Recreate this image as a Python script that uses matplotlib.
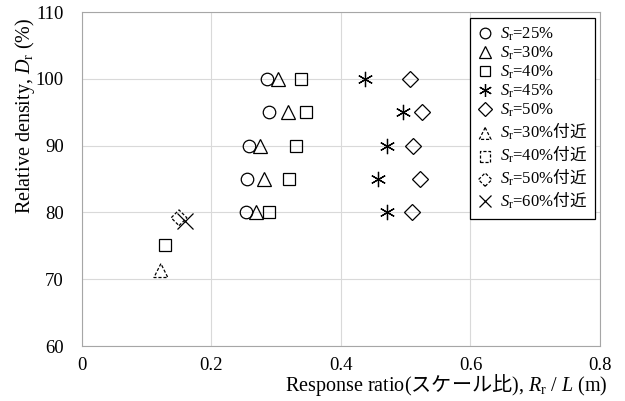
import numpy as np
import matplotlib
matplotlib.use('Agg')
import matplotlib.pyplot as plt

plt.rcParams['font.family'] = ['Liberation Serif', 'Noto Sans CJK JP']
plt.rcParams['mathtext.fontset'] = 'custom'
plt.rcParams['mathtext.rm'] = 'Liberation Serif'
plt.rcParams['mathtext.it'] = 'Liberation Serif:italic'
plt.rcParams['mathtext.sf'] = 'Noto Sans CJK JP'
plt.rcParams['mathtext.fallback'] = 'stix'

# Dr levels (%) for main test series
dr = [100, 95, 90, 85, 80]
sr25 = [0.286, 0.289, 0.258, 0.255, 0.253]
sr30 = [0.303, 0.318, 0.275, 0.281, 0.269]
sr40_x = [0.338, 0.346, 0.330, 0.320, 0.289, 0.129]
sr40_y = [100, 95, 90, 85, 80, 75.1]
sr45 = [0.437, 0.496, 0.471, 0.457, 0.471]
sr50 = [0.507, 0.525, 0.511, 0.522, 0.510]

# "付近" (approx.) series
near30_x, near30_y = [0.122], [71.3]
near40_x, near40_y = [], []
near50_x, near50_y = [0.150], [79.2]
near60_x, near60_y = [0.159], [78.7]

labels = [r'$S_\mathrm{r}$=25%', r'$S_\mathrm{r}$=30%', r'$S_\mathrm{r}$=40%',
          r'$S_\mathrm{r}$=45%', r'$S_\mathrm{r}$=50%',
          r'$S_\mathrm{r}$=30%$\mathsf{付近}$', r'$S_\mathrm{r}$=40%$\mathsf{付近}$',
          r'$S_\mathrm{r}$=50%$\mathsf{付近}$', r'$S_\mathrm{r}$=60%$\mathsf{付近}$']

fig = plt.figure(figsize=(6.25, 4.01), dpi=100)
ax = fig.add_axes([0.131, 0.137, 0.829, 0.833])

mk = dict(ls='none', mfc='none', mec='k', mew=0.9)
h1, = ax.plot(sr25, dr, marker='o', ms=9, **mk)
h2, = ax.plot(sr30, dr, marker='^', ms=10, **mk)
h3, = ax.plot(sr40_x, sr40_y, marker='s', ms=9, **mk)
h4, = ax.plot(sr45, dr, marker=(6, 2, 0), ms=11, **mk)
h5, = ax.plot(sr50, dr, marker='D', ms=8, **mk)

dash = (0, (2.5, 1.5))
sc = dict(facecolors='none', edgecolors='k', linewidths=0.9, linestyles=[dash])
h6 = ax.scatter(near30_x, near30_y, marker='^', s=100, **sc)
h7 = ax.scatter(near40_x, near40_y, marker='s', s=81, **sc)
h8 = ax.scatter(near50_x, near50_y, marker='D', s=64, **sc)
h9, = ax.plot(near60_x, near60_y, marker='x', ms=11, ls='none', color='k', mew=0.9)

ax.set_xlim(0, 0.8)
ax.set_ylim(60, 110)
ax.set_xticks([0, 0.2, 0.4, 0.6, 0.8])
ax.set_xticklabels(['0', '0.2', '0.4', '0.6', '0.8'])
ax.set_yticks([60, 70, 80, 90, 100, 110])
ax.tick_params(length=0, labelsize=13.5)
ax.tick_params(axis='x', pad=8)
ax.tick_params(axis='y', pad=13)
ax.grid(True, color='#d9d9d9', lw=0.8)
ax.set_axisbelow(True)
for s in ax.spines.values():
    s.set_color('#a6a6a6')
    s.set_linewidth(0.8)

ax.set_xlabel(r'Response ratio($\mathsf{スケール比}$), $R_\mathrm{r}$ / $L$ (m)',
              fontsize=14.5, loc='right')
ax.xaxis.set_label_coords(1.0154, -0.079)
ax.set_ylabel(r'Relative density, $D_\mathrm{r}$ (%)', fontsize=14.5, loc='top')
ax.yaxis.set_label_coords(-0.087, 0.982)

leg = ax.legend([h1, h2, h3, h4, h5, h6, h7, h8, h9], labels,
                loc='upper right', bbox_to_anchor=(0.99, 0.982), borderaxespad=0,
                fancybox=False, edgecolor='k', framealpha=1, fontsize=12,
                labelspacing=0.1, handlelength=0.9, handletextpad=0.45,
                borderpad=0.45, scatterpoints=1, numpoints=1, markerscale=0.85)
leg.get_frame().set_linewidth(0.9)

fig.savefig('out.png', dpi=100)
